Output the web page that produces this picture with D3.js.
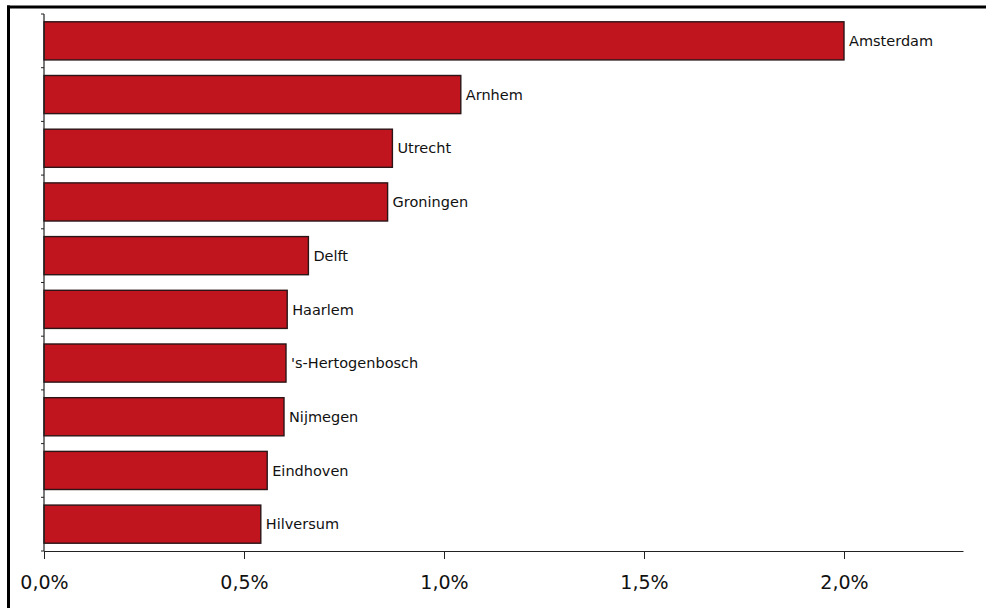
<!DOCTYPE html>
<html>
<head>
<meta charset="utf-8">
<script src="https://cdn.jsdelivr.net/npm/d3@7"></script>
<style>
  html, body { margin: 0; padding: 0; background: #fff; }
  svg { display: block; }
</style>
</head>
<body>
<svg id="chart" width="989" height="608"></svg>
<script>
// Share per city (percent), top to bottom
const cities = ["Amsterdam", "Arnhem", "Utrecht", "Groningen", "Delft", "Haarlem",
                "'s-Hertogenbosch", "Nijmegen", "Eindhoven", "Hilversum"];
const shares = [2.0, 1.042, 0.871, 0.859, 0.661, 0.608, 0.605, 0.600, 0.558, 0.542];
const xTicks = [0, 0.5, 1.0, 1.5, 2.0];

const svg = d3.select("#chart");
const fmt = v => v.toFixed(1).replace(".", ",") + "%";

const x = d3.scaleLinear().domain([0, 2.2975]).range([44, 963]);
const y = d3.scaleBand().domain(cities).range([14, 551]).paddingInner(0.29).paddingOuter(0.145);

// Frame along the top and left edges
svg.append("line").attr("x1", 7).attr("x2", 986).attr("y1", 7).attr("y2", 7)
  .attr("stroke", "#000").attr("stroke-width", 3);
svg.append("line").attr("x1", 8.5).attr("x2", 8.5).attr("y1", 5.5).attr("y2", 608)
  .attr("stroke", "#000").attr("stroke-width", 3);

// Bars
svg.append("g").selectAll("rect").data(cities).join("rect")
  .attr("x", x(0))
  .attr("y", d => y(d))
  .attr("width", (d, i) => x(shares[i]) - x(0))
  .attr("height", y.bandwidth())
  .attr("fill", "#c0141e")
  .attr("stroke", "#2b1517")
  .attr("stroke-width", 1.4);

// City labels at bar ends
svg.append("g").selectAll("text").data(cities).join("text")
  .attr("x", (d, i) => x(shares[i]) + 5)
  .attr("y", d => y(d) + y.bandwidth() / 2)
  .attr("dy", "0.36em")
  .attr("font-family", "DejaVu Sans, Verdana, sans-serif")
  .attr("font-size", 14.5)
  .attr("fill", "#111")
  .text(d => d);

// X axis
const xAxis = svg.append("g").attr("transform", "translate(0,551)")
  .call(d3.axisBottom(x).tickValues(xTicks).tickFormat(fmt)
    .tickSizeInner(8).tickSizeOuter(0).tickPadding(17));
xAxis.select(".domain").attr("stroke", "#222").attr("stroke-width", 1.2);
xAxis.selectAll(".tick line").attr("stroke", "#222");
xAxis.selectAll(".tick text")
  .attr("font-family", "DejaVu Sans, Verdana, sans-serif")
  .attr("font-size", 19).attr("fill", "#111");

// Y axis: line with small ticks at category boundaries
const yAxis = svg.append("g");
yAxis.append("line").attr("x1", 44).attr("x2", 44).attr("y1", 14).attr("y2", 551)
  .attr("stroke", "#222").attr("stroke-width", 1.2);
const bounds = d3.range(0, cities.length + 1).map(k => 14 + k * y.step());
yAxis.selectAll("line.b").data(bounds).join("line").attr("class", "b")
  .attr("x1", 41).attr("x2", 44).attr("y1", d => d).attr("y2", d => d)
  .attr("stroke", "#222").attr("stroke-width", 1);
</script>
</body>
</html>
